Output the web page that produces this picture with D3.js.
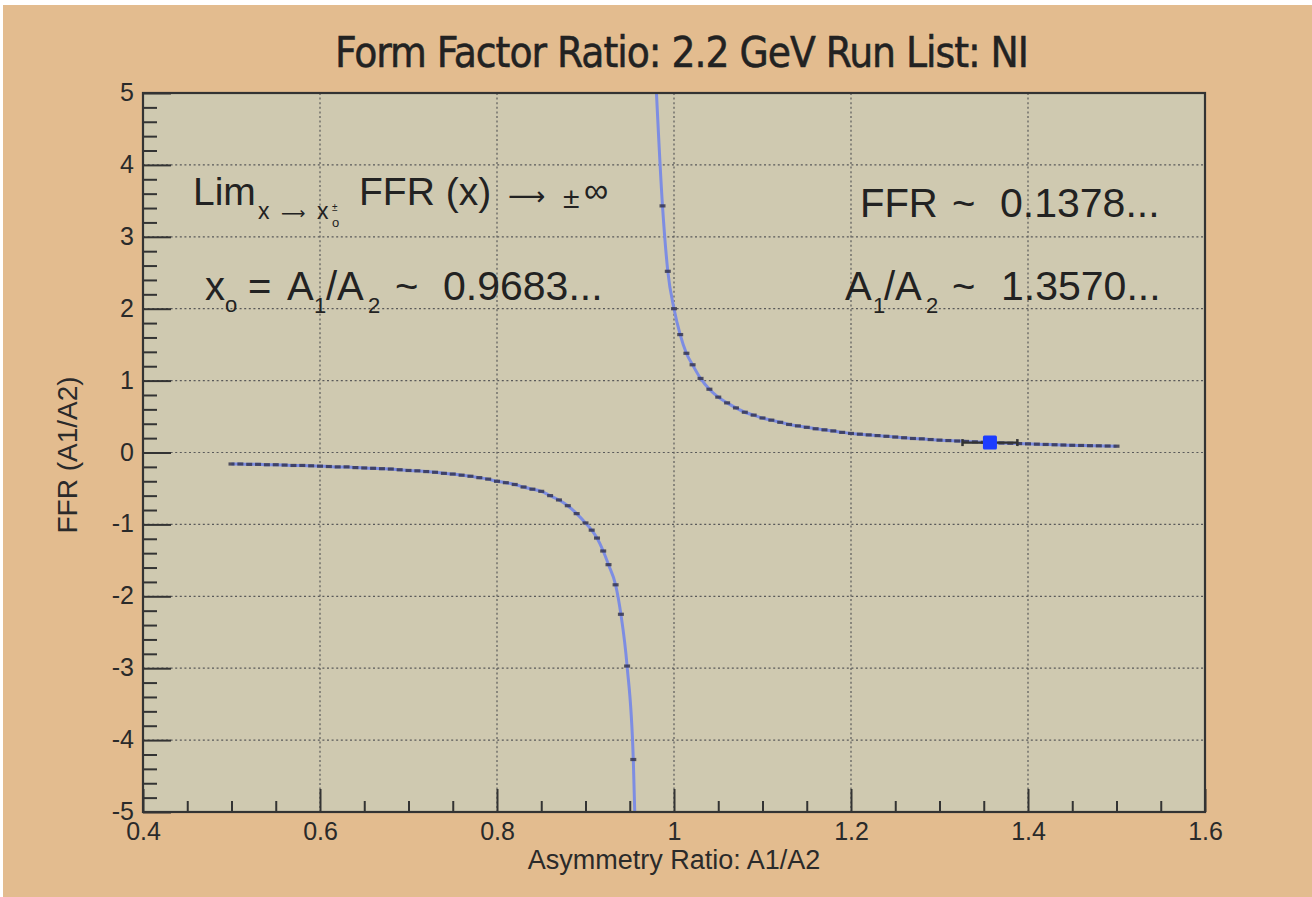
<!DOCTYPE html>
<html>
<head>
<meta charset="utf-8">
<script src="https://cdn.jsdelivr.net/npm/d3@7"></script>
<style>
  html, body { margin: 0; padding: 0; background: #ffffff; }
  svg { display: block; }
  text { font-family: "Liberation Sans", Arial, Helvetica, sans-serif; }
</style>
</head>
<body>
<svg id="chart" width="1312" height="897"></svg>
<script>
// ---- chart content ----
const chartTitle = "Form Factor Ratio: 2.2 GeV Run List: NI";
const xAxisTitle = "Asymmetry Ratio: A1/A2";
const yAxisTitle = "FFR (A1/A2)";

const xTickValues = [0.4, 0.6, 0.8, 1.0, 1.2, 1.4, 1.6];
const xTickLabels = ["0.4", "0.6", "0.8", "1", "1.2", "1.4", "1.6"];
const yTickValues = [-5, -4, -3, -2, -1, 0, 1, 2, 3, 4, 5];
const yTickLabels = ["-5", "-4", "-3", "-2", "-1", "0", "1", "2", "3", "4", "5"];

// branch below the pole (A1/A2 < x0)
const lowerBranchX = [0.50, 0.51, 0.52, 0.53, 0.54, 0.55, 0.56, 0.57, 0.58, 0.59,
                      0.60, 0.61, 0.62, 0.63, 0.64, 0.65, 0.66, 0.67, 0.68, 0.69,
                      0.70, 0.71, 0.72, 0.73, 0.74, 0.75, 0.76, 0.77, 0.78, 0.79,
                      0.80, 0.81, 0.82, 0.83, 0.84, 0.85, 0.86, 0.87, 0.88, 0.89,
                      0.90, 0.907, 0.913, 0.920, 0.926, 0.934, 0.940, 0.947, 0.954, 0.957];
const lowerBranchY = [-0.16, -0.16, -0.165, -0.165, -0.17, -0.17, -0.175, -0.18, -0.18, -0.185,
                      -0.19, -0.195, -0.20, -0.20, -0.21, -0.215, -0.22, -0.225, -0.23, -0.24,
                      -0.25, -0.255, -0.265, -0.275, -0.29, -0.30, -0.315, -0.33, -0.35, -0.37,
                      -0.40, -0.42, -0.445, -0.48, -0.51, -0.54, -0.60, -0.66, -0.74, -0.85,
                      -0.98, -1.08, -1.19, -1.37, -1.56, -1.84, -2.25, -2.97, -4.27, -5.6];

// branch above the pole (A1/A2 > x0)
const upperBranchX = [0.979, 0.987, 0.993, 1.000, 1.007, 1.014, 1.021, 1.030,
                      1.04, 1.05, 1.06, 1.07, 1.08, 1.09, 1.10, 1.11, 1.12, 1.13,
                      1.14, 1.15, 1.16, 1.17, 1.18, 1.19, 1.20, 1.21, 1.22, 1.23,
                      1.24, 1.25, 1.26, 1.27, 1.28, 1.29, 1.30, 1.31, 1.32, 1.33,
                      1.34, 1.35, 1.36, 1.37, 1.38, 1.39, 1.40, 1.41, 1.42, 1.43,
                      1.44, 1.45, 1.46, 1.47, 1.48, 1.49, 1.50];
const upperBranchY = [5.3, 3.43, 2.52, 2.00, 1.64, 1.38, 1.22, 1.03,
                      0.88, 0.77, 0.69, 0.62, 0.56, 0.52, 0.48, 0.45, 0.42, 0.39,
                      0.37, 0.35, 0.33, 0.315, 0.30, 0.28, 0.265, 0.255, 0.245, 0.235,
                      0.225, 0.215, 0.205, 0.195, 0.19, 0.18, 0.172, 0.166, 0.16, 0.154,
                      0.148, 0.142, 0.137, 0.132, 0.128, 0.124, 0.12, 0.116, 0.112, 0.108,
                      0.104, 0.10, 0.098, 0.095, 0.093, 0.09, 0.088];

// measured point with its horizontal uncertainty
const measuredX = [1.357];
const measuredY = [0.1378];
const measuredXErr = [0.031];

// ---- layout ----
const W = 1312, H = 897;
const frame = { left: 143, right: 1205, top: 93, bottom: 812 };
const colors = {
  page: "#e3bc8f",
  plot: "#cfc9b0",
  axis: "#333333",
  grid: "#5a5a5a",
  text: "#222222",
  curve: "#7d8de2",
  marker: "#30304a",
  point: "#1c3cff"
};

const x = d3.scaleLinear().domain([0.4, 1.6]).range([frame.left, frame.right]);
const y = d3.scaleLinear().domain([-5, 5]).range([frame.bottom, frame.top]);

const svg = d3.select("#chart");

// page background
svg.append("rect").attr("x", 0).attr("y", 0).attr("width", W).attr("height", H).attr("fill", "#ffffff");
svg.append("rect").attr("x", 3).attr("y", 5).attr("width", W - 3).attr("height", H - 5).attr("fill", colors.page);

// plot area
svg.append("rect")
  .attr("x", frame.left).attr("y", frame.top)
  .attr("width", frame.right - frame.left).attr("height", frame.bottom - frame.top)
  .attr("fill", colors.plot);

// dotted grid at the major ticks
const grid = svg.append("g").attr("stroke", colors.grid).attr("stroke-width", 1.2)
  .attr("stroke-dasharray", "2,2.6").attr("fill", "none");
grid.selectAll("line.gx")
  .data(xTickValues.slice(1, -1))
  .join("line")
  .attr("x1", d => x(d)).attr("x2", d => x(d))
  .attr("y1", frame.top).attr("y2", frame.bottom);
grid.selectAll("line.gy")
  .data(yTickValues.slice(1, -1))
  .join("line")
  .attr("class", "gy")
  .attr("x1", frame.left).attr("x2", frame.right)
  .attr("y1", d => y(d)).attr("y2", d => y(d));

// clipping to the frame
svg.append("clipPath").attr("id", "plotClip")
  .append("rect")
  .attr("x", frame.left).attr("y", frame.top)
  .attr("width", frame.right - frame.left).attr("height", frame.bottom - frame.top);

const plot = svg.append("g").attr("clip-path", "url(#plotClip)");

const branches = [
  d3.zip(lowerBranchX, lowerBranchY),
  d3.zip(upperBranchX, upperBranchY)
];

const line = d3.line()
  .x(d => x(d[0]))
  .y(d => y(d[1]))
  .curve(d3.curveMonotoneX);

branches.forEach(pts => {
  plot.append("path")
    .datum(pts)
    .attr("d", line)
    .attr("fill", "none")
    .attr("stroke", colors.curve)
    .attr("stroke-width", 3);
});

branches.forEach(pts => {
  plot.append("g")
    .selectAll("rect")
    .data(pts)
    .join("rect")
    .attr("x", d => x(d[0]) - 3)
    .attr("y", d => y(d[1]) - 1.6)
    .attr("width", 6)
    .attr("height", 3.2)
    .attr("fill", colors.marker)
    .attr("opacity", 0.8);
});

// measured point: x error bar with end caps and a filled square
const measured = d3.zip(measuredX, measuredY, measuredXErr);
const mp = plot.append("g");
mp.selectAll("line.err")
  .data(measured)
  .join("line")
  .attr("x1", d => x(d[0] - d[2])).attr("x2", d => x(d[0] + d[2]))
  .attr("y1", d => y(d[1])).attr("y2", d => y(d[1]))
  .attr("stroke", colors.axis).attr("stroke-width", 2.4);
mp.selectAll("path.cap")
  .data(measured.flatMap(d => [[d[0] - d[2], d[1]], [d[0] + d[2], d[1]]]))
  .join("path")
  .attr("d", d => `M${x(d[0])},${y(d[1]) - 3.5}V${y(d[1]) + 3.5}`)
  .attr("stroke", colors.axis).attr("stroke-width", 2.5);
mp.selectAll("rect")
  .data(measured)
  .join("rect")
  .attr("x", d => x(d[0]) - 7)
  .attr("y", d => y(d[1]) - 7)
  .attr("width", 14).attr("height", 14)
  .attr("rx", 1.5)
  .attr("fill", colors.point);

// ---- axes (ticks point into the frame) ----
function styleAxis(g) {
  g.select(".domain").remove();
  g.selectAll(".tick line").attr("stroke", colors.axis).attr("stroke-width", 2);
  g.selectAll(".tick text")
    .attr("fill", "#2a2a2a")
    .style("font-family", '"Liberation Sans", Arial, sans-serif')
    .style("font-size", "25px");
}

const yMinor = y.ticks(50).filter(v => !yTickValues.some(t => Math.abs(t - v) < 1e-9));
const xMinor = x.ticks(24).filter(v => !xTickValues.some(t => Math.abs(t - v) < 1e-9));

svg.append("g")
  .attr("transform", `translate(${frame.left},0)`)
  .call(d3.axisLeft(y).tickValues(yMinor).tickFormat("").tickSizeInner(-14).tickSizeOuter(0))
  .call(styleAxis);
svg.append("g")
  .attr("transform", `translate(${frame.left},0)`)
  .call(d3.axisLeft(y).tickValues(yTickValues)
    .tickFormat((d, i) => yTickLabels[i])
    .tickSizeInner(-28).tickSizeOuter(0).tickPadding(9))
  .call(styleAxis)
  .call(g => g.selectAll(".tick text").attr("dy", "0.3em"));

svg.append("g")
  .attr("transform", `translate(0,${frame.bottom})`)
  .call(d3.axisBottom(x).tickValues(xMinor).tickFormat("").tickSizeInner(-11).tickSizeOuter(0))
  .call(styleAxis);
svg.append("g")
  .attr("transform", `translate(0,${frame.bottom})`)
  .call(d3.axisBottom(x).tickValues(xTickValues)
    .tickFormat((d, i) => xTickLabels[i])
    .tickSizeInner(-23).tickSizeOuter(0).tickPadding(10))
  .call(styleAxis);

// frame
svg.append("rect")
  .attr("x", frame.left).attr("y", frame.top)
  .attr("width", frame.right - frame.left).attr("height", frame.bottom - frame.top)
  .attr("fill", "none")
  .attr("stroke", colors.axis)
  .attr("stroke-width", 2.2);

// ---- titles ----
svg.append("text")
  .attr("x", 682).attr("y", 67)
  .attr("text-anchor", "middle")
  .attr("fill", colors.text)
  .attr("textLength", 694)
  .attr("lengthAdjust", "spacing")
  .style("font-family", '"Liberation Sans Narrow", "DejaVu Sans Condensed", Arial, sans-serif')
  .style("font-size", "42px")
  .style("stroke", colors.text)
  .style("stroke-width", "0.5px")
  .text(chartTitle);

svg.append("text")
  .attr("x", (frame.left + frame.right) / 2).attr("y", 869)
  .attr("text-anchor", "middle")
  .attr("fill", "#2a2a2a")
  .style("font-size", "27px")
  .text(xAxisTitle);

svg.append("text")
  .attr("transform", "translate(77,455) rotate(-90)")
  .attr("text-anchor", "middle")
  .attr("fill", "#2a2a2a")
  .style("font-size", "28px")
  .text(yAxisTitle);

// ---- annotations ----
const arrowFont = '"DejaVu Sans", "Liberation Sans", sans-serif';
function note(parts) {
  const t = svg.append("text").attr("fill", colors.text);
  parts.forEach(p => {
    const ts = t.append("tspan")
      .attr("x", p.x).attr("y", p.y)
      .style("font-size", p.size + "px")
      .text(p.s);
    if (p.font) ts.style("font-family", p.font);
  });
}

// limit statement
note([
  { s: "Lim", x: 193, y: 205, size: 39 },
  { s: "x", x: 258, y: 219, size: 23 },
  { s: "\u27F6", x: 281, y: 219, size: 17, font: arrowFont },
  { s: "x", x: 317, y: 219, size: 23 },
  { s: "\u00B1", x: 332, y: 211, size: 10 },
  { s: "o", x: 332, y: 227, size: 13 },
  { s: "FFR (x)", x: 359, y: 205, size: 39 },
  { s: "\u27F6", x: 508, y: 205, size: 26, font: arrowFont },
  { s: "\u00B1", x: 563, y: 208, size: 30 },
  { s: "\u221E", x: 584, y: 202, size: 34 }
]);

// pole position
note([
  { s: "x", x: 205, y: 300, size: 40 },
  { s: "o", x: 225, y: 312, size: 22 },
  { s: "=", x: 248, y: 300, size: 40 },
  { s: "A", x: 287, y: 300, size: 40 },
  { s: "1", x: 314, y: 313, size: 22 },
  { s: "/A", x: 326, y: 300, size: 40 },
  { s: "2", x: 368, y: 313, size: 22 },
  { s: "~", x: 395, y: 300, size: 40 },
  { s: "0.9683...", x: 443, y: 300, size: 41 }
]);

// measured ratio
note([
  { s: "FFR", x: 860, y: 217, size: 40 },
  { s: "~", x: 952, y: 217, size: 40 },
  { s: "0.1378...", x: 1000, y: 217, size: 41 }
]);
note([
  { s: "A", x: 845, y: 300, size: 40 },
  { s: "1", x: 873, y: 313, size: 22 },
  { s: "/A", x: 884, y: 300, size: 40 },
  { s: "2", x: 926, y: 313, size: 22 },
  { s: "~", x: 952, y: 300, size: 40 },
  { s: "1.3570...", x: 1001, y: 300, size: 41 }
]);
</script>
</body>
</html>
